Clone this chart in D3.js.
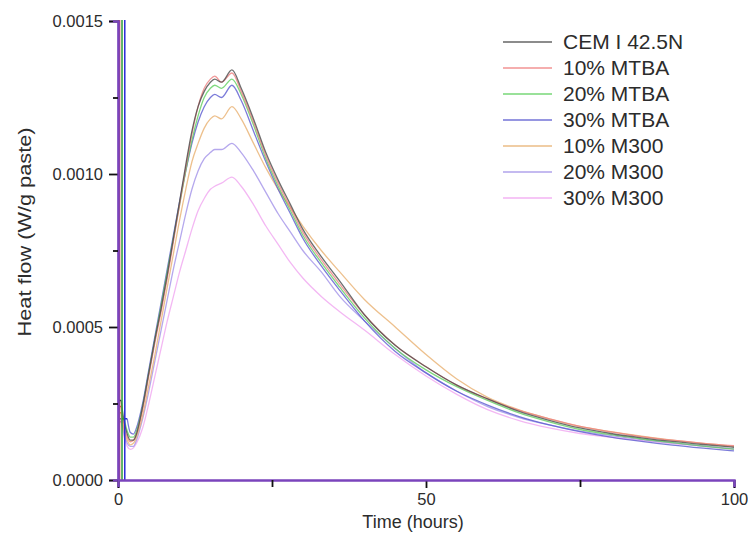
<!DOCTYPE html>
<html>
<head>
<meta charset="utf-8">
<script src="https://cdn.jsdelivr.net/npm/d3@7/dist/d3.min.js"></script>
<style>
  html, body { margin: 0; padding: 0; background: #fff; }
  svg { display: block; }
  text { font-family: Arial, "Liberation Sans", sans-serif; fill: #2c2c2c; }
</style>
</head>
<body>
<svg id="chart" width="748" height="543"></svg>
<script>
// Isothermal calorimetry: heat flow of cement pastes over the first 100 hours
const hours = [0.5, 1, 1.5, 2, 2.5, 3, 4, 5, 6, 7, 8, 9, 10, 11, 12, 13, 14, 15, 15.7, 16.8,
  18.5, 20, 22, 24, 26, 28, 30, 33, 36, 40, 45, 50, 55, 60, 65, 70, 75, 80, 85, 90, 95, 100];

const cem = [0.00026, 0.00019, 0.00015, 0.00013, 0.00013, 0.00015, 0.00024, 0.00035, 0.00046, 0.00056,
  0.00067, 0.00079, 0.00091, 0.00103, 0.00114, 0.00122, 0.00127, 0.0013, 0.00131, 0.0013,
  0.00134, 0.00128, 0.00118, 0.00107, 0.00098, 0.0009, 0.00082, 0.00073, 0.00065, 0.00054,
  0.00044, 0.00037, 0.00031, 0.000265, 0.000225, 0.000195, 0.00017, 0.000152, 0.000138, 0.000126,
  0.000116, 0.000107];
const mtba10 = [0.00024, 0.00017, 0.00014, 0.000125, 0.00013, 0.00015, 0.00023, 0.00034, 0.00045, 0.00055,
  0.00066, 0.00078, 0.0009, 0.00102, 0.00113, 0.00122, 0.00128, 0.00131, 0.00132, 0.0013,
  0.00133, 0.00127, 0.00117, 0.00106, 0.00097, 0.00089, 0.00081, 0.00072, 0.00064, 0.00054,
  0.00044, 0.00037, 0.00031, 0.000265, 0.000228, 0.0002, 0.000175, 0.000157, 0.000142, 0.00013,
  0.00012, 0.000112];
const mtba20 = [null, 0.0002, 0.00016, 0.00014, 0.00014, 0.00016, 0.00024, 0.00035, 0.00046, 0.00057,
  0.00068, 0.00079, 0.0009, 0.00101, 0.00111, 0.00119, 0.00125, 0.00128, 0.00129, 0.00128,
  0.00131, 0.00126, 0.00116, 0.00105, 0.00096, 0.00088, 0.0008, 0.00071, 0.00063, 0.00053,
  0.00043, 0.00036, 0.000305, 0.00026, 0.00022, 0.00019, 0.000165, 0.000148, 0.000134, 0.000122,
  0.000111, 0.000101];
const mtba30 = [null, null, 0.0002, 0.000155, 0.00015, 0.00017, 0.00025, 0.00036, 0.00047, 0.00058,
  0.00069, 0.0008, 0.00091, 0.00101, 0.0011, 0.00117, 0.00122, 0.00125, 0.00126, 0.00125,
  0.00129, 0.00124, 0.00114, 0.00104, 0.00095, 0.00087, 0.00079, 0.0007, 0.00062, 0.00052,
  0.00042, 0.00035, 0.00029, 0.000245, 0.000208, 0.00018, 0.000158, 0.00014, 0.000126, 0.000114,
  0.000104, 0.000095];
const m300_10 = [0.00022, 0.00016, 0.00013, 0.000115, 0.00012, 0.00014, 0.00021, 0.00031, 0.00041, 0.00052,
  0.00063, 0.00074, 0.00085, 0.00095, 0.00104, 0.0011, 0.00115, 0.00118, 0.00119, 0.00118,
  0.00122, 0.00118, 0.0011, 0.00102, 0.00095, 0.00089, 0.00083, 0.00075, 0.00068, 0.00059,
  0.0005, 0.00041, 0.00033, 0.00027, 0.00023, 0.0002, 0.000175, 0.000158, 0.000143, 0.00013,
  0.00012, 0.00011];
const m300_20 = [0.0002, 0.00015, 0.00012, 0.00011, 0.00011, 0.00013, 0.0002, 0.00029, 0.00039, 0.00049,
  0.00059, 0.00069, 0.00078, 0.00087, 0.00095, 0.00101, 0.00105, 0.00107, 0.00108, 0.00108,
  0.0011, 0.00107, 0.00101, 0.00094, 0.00087, 0.00081, 0.00075, 0.00068, 0.0006, 0.00052,
  0.00043, 0.00035, 0.00029, 0.00024, 0.000205, 0.00018, 0.00016, 0.000145, 0.000132, 0.000121,
  0.000111, 0.000102];
const m300_30 = [0.00019, 0.00014, 0.00011, 0.0001, 0.000105, 0.00012, 0.00017, 0.00025, 0.00034, 0.00043,
  0.00052, 0.0006, 0.00068, 0.00075, 0.00082, 0.00088, 0.00092, 0.00095, 0.00096, 0.00097,
  0.00099, 0.00096, 0.0009, 0.00083, 0.00077, 0.00071, 0.00066, 0.0006, 0.00055, 0.00049,
  0.00041, 0.00034, 0.00028, 0.00023, 0.000195, 0.00017, 0.000152, 0.00014, 0.000129, 0.000119,
  0.00011, 0.0001];

const seriesNames = ["CEM I 42.5N", "10% MTBA", "20% MTBA", "30% MTBA", "10% M300", "20% M300", "30% M300"];
const seriesValues = [cem, mtba10, mtba20, mtba30, m300_10, m300_20, m300_30];
const seriesColors = ["#4a4a4a", "#ee8080", "#5fcf5f", "#5a5ad0", "#e8b070", "#a292e8", "#f0a6f0"];
// mixing-time heat spike: onset hour and (off-scale) peak heat flow for each paste
const spikeHours = [0.0, 0.25, 0.65, 1.1, 0.1, 0.0, 0.05];
const spikePeak = [0.0016, 0.0016, 0.0016, 0.0016, 0.0016, 0.0016, 0.0016];
const spikeColors = ["#444444", "#e04848", "#2f9e3a", "#2a2ad8", "#e0a050", "#8a4cc8", "#e070e0"];

const yMajorTicks = [0, 0.0005, 0.001, 0.0015];
const yMinorTicks = [0.00025, 0.00075, 0.00125];
const xMajorTicks = [0, 50, 100];
const xMinorTicks = [25, 75];

const svg = d3.select("#chart");
const plotLeft = 118, plotRight = 734, plotTop = 21, plotBottom = 480;

const x = d3.scaleLinear().domain([0, 100]).range([plotLeft, plotRight]);
const y = d3.scaleLinear().domain([0, 0.0015]).range([plotBottom, plotTop]);

svg.append("defs").append("clipPath").attr("id", "plot")
  .append("rect").attr("x", plotLeft).attr("y", plotTop - 1)
  .attr("width", plotRight - plotLeft + 2).attr("height", plotBottom - plotTop + 1);

const plot = svg.append("g").attr("clip-path", "url(#plot)");

const smooth = d3.line()
  .x(d => x(d[0])).y(d => y(d[1]))
  .curve(d3.curveMonotoneX);

const straight = d3.line().x(d => x(d[0])).y(d => y(d[1]));

// drawn back to front so the plain cement curve sits on top
const order = [6, 5, 4, 3, 2, 1, 0];
const pointsOf = i => hours.map((h, k) => [h, seriesValues[i][k]])
  .filter(p => p[1] != null && p[0] > spikeHours[i]);

order.forEach(i => {
  plot.append("path")
    .attr("d", smooth(pointsOf(i)))
    .attr("fill", "none")
    .attr("stroke", seriesColors[i])
    .attr("stroke-width", 1.3)
    .attr("stroke-opacity", 0.8);
});

// vertical spikes at the start of each run: straight up, back down, then on to the curve
order.forEach(i => {
  const first = pointsOf(i)[0];
  const t0 = spikeHours[i];
  const spike = [[t0, 0], [t0, spikePeak[i]], [t0 + 0.01, first[1]], first];
  plot.append("path")
    .attr("d", straight(spike))
    .attr("fill", "none")
    .attr("stroke", spikeColors[i])
    .attr("stroke-width", 1.5);
});

// axes
const axisColor = "#7a44bc";
const yAxis = svg.append("g").attr("transform", `translate(${plotLeft},0)`)
  .call(d3.axisLeft(y).tickValues(yMajorTicks).tickSize(9).tickPadding(6).tickFormat(d3.format(".4f")));
const yMinor = svg.append("g").attr("transform", `translate(${plotLeft},0)`)
  .call(d3.axisLeft(y).tickValues(yMinorTicks).tickSize(5).tickFormat(""));
const xAxis = svg.append("g").attr("transform", `translate(0,${plotBottom})`)
  .call(d3.axisBottom(x).tickValues(xMajorTicks).tickSize(8).tickPadding(5).tickFormat(d3.format("d")));
const xMinor = svg.append("g").attr("transform", `translate(0,${plotBottom})`)
  .call(d3.axisBottom(x).tickValues(xMinorTicks).tickSize(7).tickFormat(""));

[yAxis, yMinor, xAxis, xMinor].forEach(g => {
  g.select(".domain").attr("stroke", axisColor).attr("stroke-width", 2.2);
  g.selectAll(".tick line").attr("stroke", "#111").attr("stroke-width", 1.8);
  g.selectAll(".tick text").attr("font-size", 16.5).attr("fill", "#333")
    .attr("font-family", "Arial, 'Liberation Sans', sans-serif");
});

// axis titles
svg.append("text")
  .attr("x", 413).attr("y", 528)
  .attr("text-anchor", "middle")
  .attr("font-size", 18)
  .text("Time (hours)");

svg.append("text")
  .attr("transform", "translate(31,232) rotate(-90)")
  .attr("text-anchor", "middle")
  .attr("font-size", 19)
  .attr("textLength", 209)
  .attr("lengthAdjust", "spacingAndGlyphs")
  .text("Heat flow (W/g paste)");

// legend
const legendRowY = d3.scalePoint().domain(seriesNames).range([42, 198]);
const legend = svg.append("g");
seriesNames.forEach((name, i) => {
  const yy = legendRowY(name);
  legend.append("line")
    .attr("x1", 503).attr("x2", 552).attr("y1", yy).attr("y2", yy)
    .attr("stroke", seriesColors[i]).attr("stroke-width", 1.5).attr("stroke-opacity", 0.85);
  legend.append("text")
    .attr("x", 563).attr("y", yy + 7)
    .attr("font-size", 21)
    .text(name);
});
</script>
</body>
</html>
